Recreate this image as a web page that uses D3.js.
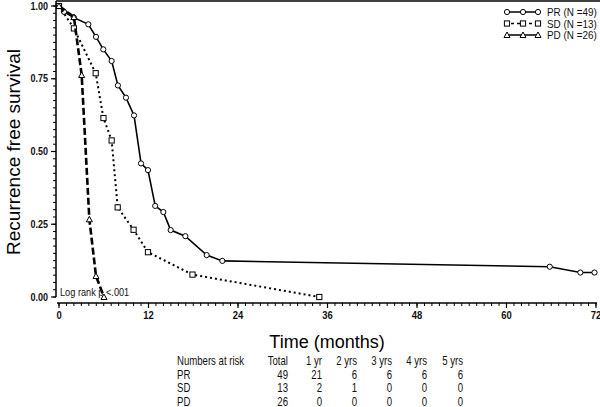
<!DOCTYPE html>
<html>
<head>
<meta charset="utf-8">
<script src="https://cdn.jsdelivr.net/npm/d3@7"></script>
<style>
  body { margin: 0; background: #fff; }
  svg { display: block; font-family: "Liberation Sans", Arial, sans-serif; }
</style>
</head>
<body>
<div id="chart"></div>
<script>
// Kaplan-Meier points (months, survival)
const prTime = [0, 0.67, 2.0, 3.93, 4.96, 5.94, 7.06, 7.9, 8.98, 10.06, 11.0, 11.93, 12.9, 13.99, 14.97, 16.94, 19.8, 21.9, 65.8, 69.9, 71.8];
const prSurv = [1, 0.98, 0.96, 0.937, 0.894, 0.851, 0.811, 0.727, 0.685, 0.624, 0.459, 0.436, 0.313, 0.292, 0.230, 0.209, 0.144, 0.124, 0.104, 0.084, 0.084];
const sdTime = [0, 2.0, 4.92, 5.96, 7.06, 7.87, 10.0, 11.93, 17.9, 34.9];
const sdSurv = [1, 0.923, 0.769, 0.615, 0.538, 0.308, 0.231, 0.154, 0.077, 0];
const pdTime = [0, 2.0, 3.04, 4.07, 4.96, 6.03];
const pdSurv = [1, 0.962, 0.763, 0.267, 0.072, 0];

const groupNames = ['PR (N =49)', 'SD (N =13)', 'PD (N =26)'];
const xTicks = [0, 12, 24, 36, 48, 60, 72];
const yTicks = [0, 0.25, 0.5, 0.75, 1];

const riskHeader = ['Numbers at risk', 'Total', '1 yr', '2 yrs', '3 yrs', '4 yrs', '5 yrs'];
const riskGroups = ['PR', 'SD', 'PD'];
const riskCounts = [
  [49, 21, 6, 6, 6, 6],
  [13, 2, 1, 0, 0, 0],
  [26, 0, 0, 0, 0, 0]
];

const width = 600, height = 407;
const x = d3.scaleLinear().domain([0, 72]).range([59, 596]);
const y = d3.scaleLinear().domain([0, 1]).range([297, 6]);

const svg = d3.select('#chart').append('svg')
  .attr('width', width).attr('height', height);

// condensed text: no narrow font installed, so squeeze horizontally
function narrowText(g, tx, ty, str, anchor, size, sx) {
  return g.append('text')
    .attr('transform', `translate(${tx},${ty}) scale(${sx},1)`)
    .attr('text-anchor', anchor || 'start')
    .attr('font-size', size)
    .attr('fill', '#111')
    .text(str);
}

// frame top
svg.append('line').attr('x1', 56).attr('x2', 600).attr('y1', 1).attr('y2', 1)
  .attr('stroke', '#000').attr('stroke-width', 1.5);

// y axis
const yAxis = svg.append('g').attr('transform', 'translate(56,0)');
yAxis.append('line').attr('y1', 1).attr('y2', 297).attr('stroke', '#000').attr('stroke-width', 1.5);
yAxis.selectAll('.minor').data(d3.range(0, 1.0001, 0.025)).join('line')
  .attr('x1', -3).attr('x2', 0).attr('y1', d => y(d)).attr('y2', d => y(d))
  .attr('stroke', '#000').attr('stroke-width', 1);
yAxis.selectAll('.major').data(yTicks).join('line')
  .attr('x1', -5).attr('x2', 0).attr('y1', d => y(d)).attr('y2', d => y(d))
  .attr('stroke', '#000').attr('stroke-width', 1.2);
yTicks.forEach(d => {
  narrowText(yAxis, -8, y(d) + 3.5, d3.format('.2f')(d), 'end', 10, 0.9).attr('font-weight', 'bold');
});

// x axis
const xAxis = svg.append('g').attr('transform', 'translate(0,303)');
xAxis.append('line').attr('x1', 57).attr('x2', 597).attr('stroke', '#000').attr('stroke-width', 1.5);
xAxis.selectAll('.minor').data(d3.range(0, 73, 1)).join('line')
  .attr('x1', d => x(d)).attr('x2', d => x(d)).attr('y1', 0).attr('y2', 3)
  .attr('stroke', '#000').attr('stroke-width', 1);
xAxis.selectAll('.major').data(xTicks).join('line')
  .attr('x1', d => x(d)).attr('x2', d => x(d)).attr('y1', 0).attr('y2', 5)
  .attr('stroke', '#000').attr('stroke-width', 1.2);
xTicks.forEach(d => {
  narrowText(xAxis, x(d), 16, d, 'middle', 10.5, 0.9).attr('font-weight', 'bold');
});

// axis titles
svg.append('text')
  .attr('transform', 'translate(20,152) rotate(-90)')
  .attr('text-anchor', 'middle').attr('font-size', 19)
  .text('Recurrence free survival');
svg.append('text')
  .attr('x', 327).attr('y', 348)
  .attr('text-anchor', 'middle').attr('font-size', 18)
  .text('Time (months)');

// curves
const line = d3.line().x(d => x(d[0])).y(d => y(d[1]));
const series = [
  { t: prTime, s: prSurv, dash: null, w: 1.6, marker: 'circle' },
  { t: sdTime, s: sdSurv, dash: '2,3', w: 2, marker: 'square' },
  { t: pdTime, s: pdSurv, dash: '7,3', w: 2.6, marker: 'triangle' }
];

function drawMarker(g, type, cx, cy) {
  if (type === 'circle') {
    g.append('circle').attr('cx', cx).attr('cy', cy).attr('r', 2.6)
      .attr('fill', '#fff').attr('stroke', '#000').attr('stroke-width', 1);
  } else if (type === 'square') {
    g.append('rect').attr('x', cx - 2.6).attr('y', cy - 2.6).attr('width', 5.2).attr('height', 5.2)
      .attr('fill', '#fff').attr('stroke', '#000').attr('stroke-width', 1);
  } else {
    g.append('path').attr('d', `M${cx},${cy - 3}L${cx + 3},${cy + 2.5}L${cx - 3},${cy + 2.5}Z`)
      .attr('fill', '#fff').attr('stroke', '#000').attr('stroke-width', 1);
  }
}

series.forEach(sr => {
  const pts = sr.t.map((t, i) => [t, sr.s[i]]);
  svg.append('path').datum(pts)
    .attr('d', line).attr('fill', 'none').attr('stroke', '#000')
    .attr('stroke-width', sr.w)
    .attr('stroke-dasharray', sr.dash);
  const g = svg.append('g');
  pts.forEach(p => drawMarker(g, sr.marker, x(p[0]), y(p[1])));
});

// legend
const leg = svg.append('g');
series.forEach((sr, i) => {
  const ly = 12 + i * 11.5;
  leg.append('line').attr('x1', 505).attr('x2', 539).attr('y1', ly).attr('y2', ly)
    .attr('stroke', '#000').attr('stroke-width', 1.5)
    .attr('stroke-dasharray', sr.marker === 'square' ? '3,3' : null);
  [507, 523, 538].forEach(cx => drawMarker(leg, sr.marker, cx, ly));
  narrowText(leg, 547, ly + 4, groupNames[i], 'start', 11, 0.9);
});

narrowText(svg, 60, 296, 'Log rank p <.001', 'start', 10, 0.92);

// numbers at risk table
const colRight = [288, 322, 357, 392, 427, 463];
const table = svg.append('g');
narrowText(table, 177, 365, riskHeader[0], 'start', 12, 0.8);
riskHeader.slice(1).forEach((h, j) => narrowText(table, colRight[j], 365, h, 'end', 12, 0.8));
riskGroups.forEach((gname, i) => {
  const ry = 378.5 + i * 13.5;
  narrowText(table, 177, ry, gname, 'start', 12, 0.8);
  riskCounts[i].forEach((v, j) => narrowText(table, colRight[j], ry, v, 'end', 12, 0.8));
});
</script>
</body>
</html>
